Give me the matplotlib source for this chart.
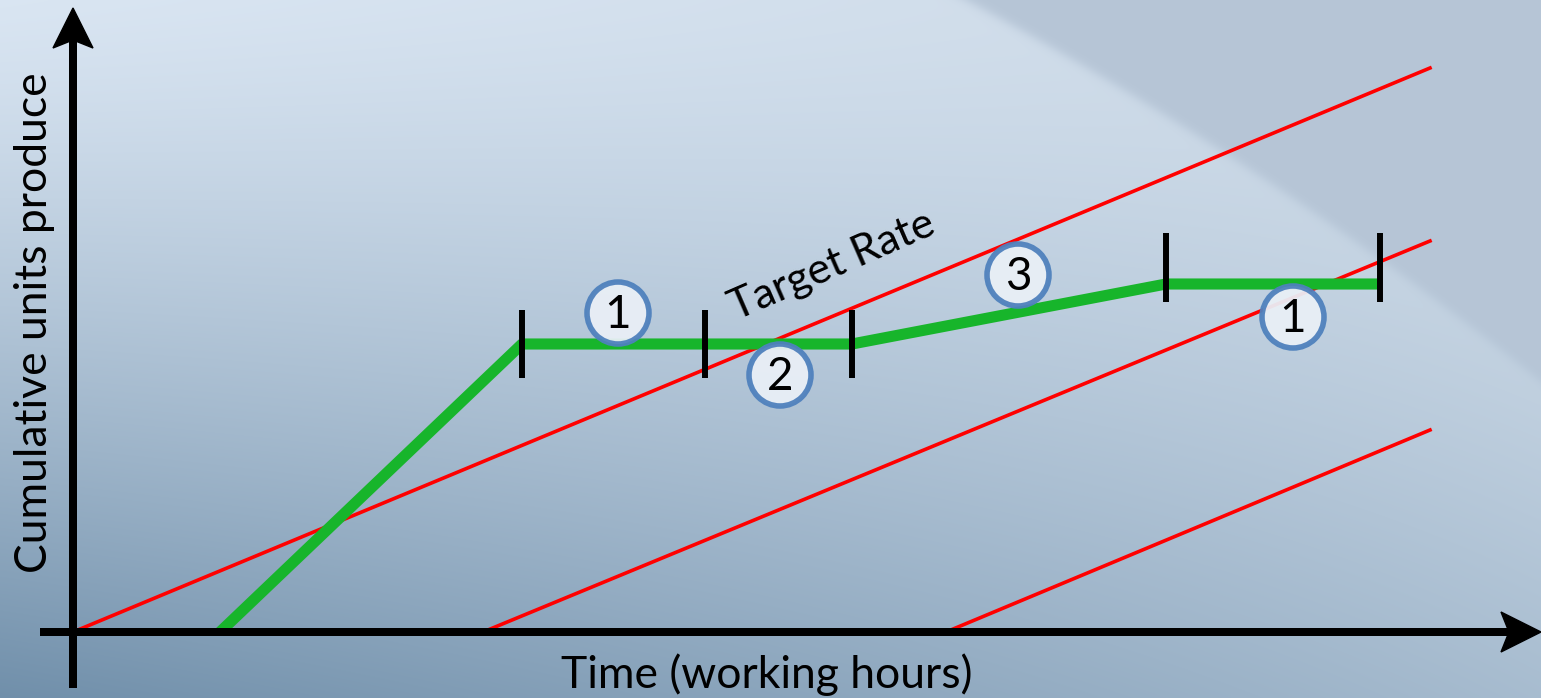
import numpy as np
import matplotlib.pyplot as plt
from matplotlib.patches import Circle, Polygon

plt.rcParams['font.family'] = ['Lato', 'DejaVu Sans']

# data (x = working hours, y = cumulative units), origin at axis crossing
rate_x0 = [0, 410, 873]
rate_x1 = [1357, 1357, 1357]
rate_y1 = [564, 391, 202]

green_x = [147, 449, 779, 1093, 1307]
green_y = [0, 288, 288, 348, 348]

tick_x = [449, 632, 779, 1093, 1307]
tick_lo = [254, 254, 254, 330, 330]
tick_hi = [322, 322, 322, 399, 399]

circle_labels = ['1', '2', '3', '1']
circle_x = [545, 707, 945, 1220]
circle_y = [319, 257, 357, 315]

W, H = 1541, 698
ox, oy = 73, 632  # pixel position of the origin

fig = plt.figure(figsize=(W / 100, H / 100), dpi=100)
ax = fig.add_axes([0, 0, 1, 1])
ax.set_xlim(-ox, W - ox)
ax.set_ylim(oy - H, oy)
ax.axis('off')

# background gradient
u = np.linspace(0, 1, W)[None, :]
v = np.linspace(0, 1, H)[:, None]
light = np.array([218, 230, 243]) / 255
dark = np.array([112, 143, 170]) / 255
t = np.clip(v ** 1.2 * (1 - 0.6 * u) + 0.12 * u, 0, 1)
bg = light[None, None, :] * (1 - t[..., None]) + dark[None, None, :] * t[..., None]
px = u * W
py = v * H
cx, cy, R = -855, 3378, 3838
d = np.sqrt((px - cx) ** 2 + (py - cy) ** 2)
outside = 1 / (1 + np.exp(-(d - R) / 3))
band = np.exp(-np.clip(R - d, 0, None) / 200) * (1 - outside)
outer = np.array([182, 197, 214]) / 255
hi = np.array([208, 219, 230]) / 255
bg = bg * (1 - 0.35 * band[..., None]) + hi * 0.35 * band[..., None]
bg = bg * (1 - outside[..., None]) + outer * outside[..., None]
ax.imshow(bg, extent=(-ox, W - ox, oy - H, oy), aspect='auto', zorder=0)

# axes arrows
def arrow(x0, y0, x1, y1, lw=8, hw=20, hl=40, notch=8):
    dx, dy = x1 - x0, y1 - y0
    L = np.hypot(dx, dy)
    ux, uy = dx / L, dy / L
    nx, ny = -uy, ux
    bx, by = x1 - ux * hl, y1 - uy * hl
    ax.plot([x0, bx + ux * notch], [y0, by + uy * notch], color='black', lw=lw * 0.72, solid_capstyle='butt', zorder=5)
    pts = [(x1, y1), (bx + nx * hw, by + ny * hw), (bx + ux * notch, by + uy * notch), (bx - nx * hw, by - ny * hw)]
    ax.add_patch(Polygon(pts, closed=True, color='black', zorder=5))

arrow(0, -56, 0, 624)
arrow(-33, 0, W - ox, 0)

# target-rate lines
for x0, x1, y1 in zip(rate_x0, rate_x1, rate_y1):
    ax.plot([x0, x1], [0, y1], color='#ff0000', lw=2.6, zorder=3)

# actual production
ax.plot(green_x, green_y, color='#17b52b', lw=8, solid_capstyle='butt', zorder=4)
ax.vlines(tick_x, tick_lo, tick_hi, color='black', lw=4.3, zorder=6)

for lab, x, y in zip(circle_labels, circle_x, circle_y):
    ax.add_patch(Circle((x, y), 31, facecolor='#e9eff6', edgecolor='#4f81bd', lw=4, alpha=0.95, zorder=7))
    ax.text(x, y - 2, lab, fontsize=33, ha='center', va='center', zorder=8)

ax.text(759, 366, 'Target Rate', fontsize=31, rotation=23.5, ha='center', va='center', rotation_mode='anchor', zorder=8)
ax.text(-38, 309, 'Cumulative units produce', fontsize=32, rotation=90, ha='center', va='center', zorder=8)
ax.text(694, -43, 'Time (working hours)', fontsize=32, ha='center', va='center', zorder=8)

fig.savefig('out.png', dpi=100)
